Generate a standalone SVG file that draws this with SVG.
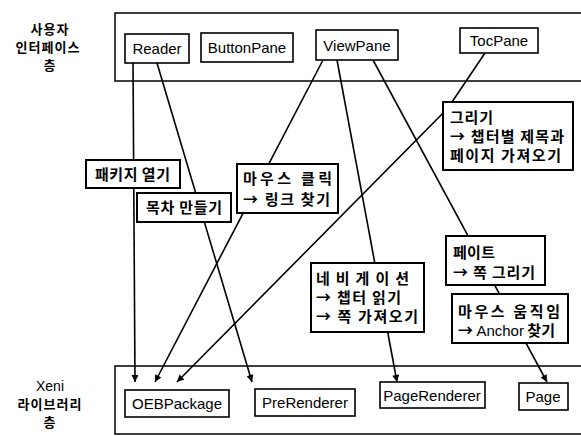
<svg xmlns="http://www.w3.org/2000/svg" width="581" height="436" viewBox="0 0 581 436">
<style>
  .frame{fill:none;stroke:#000;stroke-width:1.5}
  .cls{fill:#fff;stroke:#000;stroke-width:1.6}
  .lbl{fill:#fff;stroke:#000;stroke-width:2}
  .en{font-family:"Liberation Sans",Arial,sans-serif;font-size:15px;fill:#000;text-anchor:middle}
  .ko{font-family:"Noto Sans CJK KR","Noto Sans",sans-serif;font-size:15px;font-weight:bold;fill:#000}
  .layer{font-family:"Noto Sans CJK KR","Liberation Sans",sans-serif;font-size:13px;font-weight:bold;fill:#000;text-anchor:middle;letter-spacing:1px}
  .lat{font-family:"Liberation Sans",Arial,sans-serif;font-weight:normal;letter-spacing:0}
  .conn{fill:none;stroke:#000;stroke-width:1.6}
</style>
<defs>
  <marker id="arr" viewBox="0 0 10 10" refX="10" refY="5" markerWidth="10" markerHeight="7" markerUnits="userSpaceOnUse" orient="auto">
    <path d="M0,0 L10,5 L0,10 z" fill="#000"/>
  </marker>
</defs>
<rect width="581" height="436" fill="#fff"/>

<g id="layer-ui">
  <rect class="frame" x="115" y="13" width="470" height="68"/>
  <text class="layer"><tspan x="50" y="34">사용자</tspan><tspan x="48" y="52">인터페이스</tspan><tspan x="50" y="70">층</tspan></text>
</g>
<g id="layer-lib">
  <rect class="frame" x="115" y="366" width="470" height="68"/>
  <text class="layer"><tspan x="50" y="391" class="lat" style="font-size:14px">Xeni</tspan><tspan x="50" y="409">라이브러리</tspan><tspan x="50" y="427">층</tspan></text>
</g>

<g id="connectors">
  <path class="conn" d="M133,63 L135,382" marker-end="url(#arr)"/>
  <path class="conn" d="M157,63 L252,382" marker-end="url(#arr)"/>
  <path class="conn" d="M323,60 L155,382" marker-end="url(#arr)"/>
  <path class="conn" d="M337,60 L397,382" marker-end="url(#arr)"/>
  <path class="conn" d="M373,60 L547,382" marker-end="url(#arr)"/>
  <path class="conn" d="M485,53 L448,108 L177,382" marker-end="url(#arr)"/>
</g>

<g id="Reader"><rect class="cls" x="125" y="34" width="64" height="29"/><text class="en" x="157" y="54">Reader</text></g>
<g id="ButtonPane"><rect class="cls" x="201" y="33" width="92" height="29"/><text class="en" x="247" y="53">ButtonPane</text></g>
<g id="ViewPane"><rect class="cls" x="316" y="30" width="82" height="30"/><text class="en" x="357" y="51">ViewPane</text></g>
<g id="TocPane"><rect class="cls" x="460" y="28" width="78" height="25"/><text class="en" x="499" y="46">TocPane</text></g>

<g id="OEBPackage"><rect class="cls" x="125" y="390" width="104" height="27"/><text class="en" x="177" y="409">OEBPackage</text></g>
<g id="PreRenderer"><rect class="cls" x="255" y="389" width="100" height="27"/><text class="en" x="305" y="408">PreRenderer</text></g>
<g id="PageRenderer"><rect class="cls" x="380" y="382" width="105" height="26"/><text class="en" x="432" y="401">PageRenderer</text></g>
<g id="Page"><rect class="cls" x="519" y="383" width="49" height="27"/><text class="en" x="543" y="402">Page</text></g>

<g id="lbl-open"><rect class="lbl" x="86" y="160" width="94" height="28"/><text class="ko" x="95" y="180" textLength="75" lengthAdjust="spacing">패키지 열기</text></g>
<g id="lbl-toc"><rect class="lbl" x="137" y="193" width="94" height="29"/><text class="ko" x="146" y="213" textLength="76" lengthAdjust="spacing">목차 만들기</text></g>
<g id="lbl-click"><rect class="lbl" x="237" y="164" width="101" height="49"/><text class="ko"><tspan x="243" y="184" textLength="89" lengthAdjust="spacing">마우스 클릭</tspan><tspan x="243" y="205" textLength="87" lengthAdjust="spacing">→ 링크 찾기</tspan></text></g>
<g id="lbl-draw"><rect class="lbl" x="443" y="102" width="130" height="68"/><text class="ko"><tspan x="450" y="123" textLength="43" lengthAdjust="spacing">그리기</tspan><tspan x="450" y="142" textLength="114" lengthAdjust="spacing">→ 챕터별 제목과</tspan><tspan x="450" y="161" textLength="111" lengthAdjust="spacing">페이지 가져오기</tspan></text></g>
<g id="lbl-paint"><rect class="lbl" x="446" y="236" width="99" height="49"/><text class="ko"><tspan x="453" y="258" textLength="42" lengthAdjust="spacing">페이트</tspan><tspan x="453" y="278" textLength="82" lengthAdjust="spacing">→ 쪽 그리기</tspan></text></g>
<g id="lbl-nav"><rect class="lbl" x="311" y="263" width="113" height="69"/><text class="ko"><tspan x="316" y="284" textLength="93" lengthAdjust="spacing">네비게이션</tspan><tspan x="316" y="303" textLength="85" lengthAdjust="spacing">→ 챕터 읽기</tspan><tspan x="316" y="322" textLength="102" lengthAdjust="spacing">→ 쪽 가져오기</tspan></text></g>
<g id="lbl-move"><rect class="lbl" x="452" y="294" width="116" height="49"/><text class="ko"><tspan x="458" y="317" textLength="102" lengthAdjust="spacing">마우스 움직임</tspan><tspan x="458" y="336">→ <tspan class="lat">Anchor</tspan> 찾기</tspan></text></g>
</svg>
